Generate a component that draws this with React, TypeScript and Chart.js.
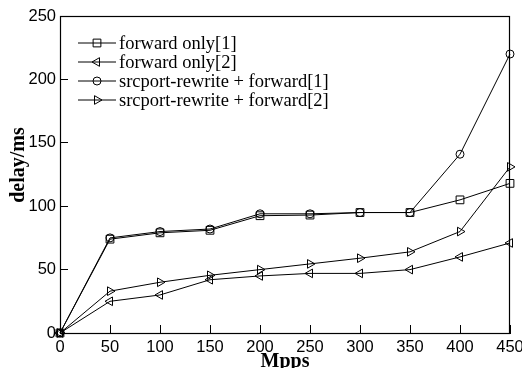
import React, { useEffect, useRef } from "react";
import { Chart, registerables } from "chart.js";

Chart.register(...registerables);

const xValues = [0, 50, 100, 150, 200, 250, 300, 350, 400, 450];
const forwardOnly1 = [0, 74, 79, 81, 92.5, 93, 95, 95, 105, 118];
const forwardOnly2 = [0, 25, 30, 42, 45, 47, 47, 50, 60, 71];
const srcport1 = [0, 75, 80, 82, 94, 94, 95, 95, 141, 220];
const srcport2 = [0, 33, 40, 45.5, 50, 54.5, 59, 64, 80, 131];

const seriesNames = [
  "forward only[1]",
  "forward only[2]",
  "srcport-rewrite + forward[1]",
  "srcport-rewrite + forward[2]",
];
const xTitle = "Mpps";
const yTitle = "delay/ms";

type Marker = { style: string; rotation: number; radius: number };
const markers: Marker[] = [
  { style: "rect", rotation: 0, radius: 5.5 },
  { style: "triangle", rotation: -90, radius: 5 },
  { style: "circle", rotation: 0, radius: 4 },
  { style: "triangle", rotation: 90, radius: 5 },
];

function drawMarker(ctx: CanvasRenderingContext2D, m: Marker, x: number, y: number) {
  ctx.beginPath();
  if (m.style === "rect") {
    const s = m.radius * Math.SQRT1_2;
    ctx.rect(x - s, y - s, 2 * s, 2 * s);
  } else if (m.style === "circle") {
    ctx.arc(x, y, m.radius, 0, Math.PI * 2);
  } else {
    const rad = (m.rotation * Math.PI) / 180;
    const r = m.radius;
    ctx.moveTo(x + Math.sin(rad) * r, y - Math.cos(rad) * r);
    ctx.lineTo(x + Math.sin(rad + (2 * Math.PI) / 3) * r, y - Math.cos(rad + (2 * Math.PI) / 3) * r);
    ctx.lineTo(x + Math.sin(rad + (4 * Math.PI) / 3) * r, y - Math.cos(rad + (4 * Math.PI) / 3) * r);
    ctx.closePath();
  }
  ctx.stroke();
}

const decorPlugin = {
  id: "decor",
  afterDraw(chart: any) {
    const ctx: CanvasRenderingContext2D = chart.ctx;
    const a = chart.chartArea;
    ctx.save();
    ctx.strokeStyle = "#000";
    ctx.lineWidth = 1.2;
    ctx.strokeRect(Math.round(a.left) + 0.5, Math.round(a.top) + 0.5, Math.round(a.right - a.left) - 1, Math.round(a.bottom - a.top));

    // legend
    ctx.lineWidth = 1;
    const rowY = [43, 62, 81, 100];
    ctx.font = '18.5px "Liberation Serif"';
    ctx.fillStyle = "#000";
    ctx.textBaseline = "middle";
    ctx.textAlign = "left";
    seriesNames.forEach((name, i) => {
      const y = rowY[i];
      ctx.beginPath();
      ctx.moveTo(78, y);
      ctx.lineTo(116, y);
      ctx.stroke();
      drawMarker(ctx, markers[i], 97, y);
      ctx.fillText(name, 119, y + 1);
    });

    // axis titles
    ctx.font = 'bold 20px "Liberation Serif"';
    ctx.textAlign = "center";
    ctx.textBaseline = "alphabetic";
    ctx.fillText(xTitle, (a.left + a.right) / 2, 367);
    ctx.save();
    ctx.translate(24, 165);
    ctx.rotate(-Math.PI / 2);
    ctx.fillText(yTitle, 0, 0);
    ctx.restore();
    ctx.restore();
  },
};

export default function App() {
  const canvasRef = useRef<HTMLCanvasElement | null>(null);

  useEffect(() => {
    const canvas = canvasRef.current;
    if (!canvas) return;
    const mk = (label: string, data: number[], i: number) => ({
      label,
      data: xValues.map((x, k) => ({ x, y: data[k] })),
      borderColor: "#000",
      borderWidth: 1,
      backgroundColor: "rgba(0,0,0,0)",
      pointStyle: markers[i].style,
      rotation: markers[i].rotation,
      pointRadius: markers[i].radius,
      pointBorderWidth: 1,
      pointBorderColor: "#000",
      pointBackgroundColor: "rgba(0,0,0,0)",
      tension: 0,
      fill: false,
      clip: false,
    });
    const tickFont = { family: '"Liberation Sans"', size: 16.5 };
    const chart = new Chart(canvas, {
      type: "line",
      data: {
        datasets: [
          mk(seriesNames[0], forwardOnly1, 0),
          mk(seriesNames[1], forwardOnly2, 1),
          mk(seriesNames[2], srcport1, 2),
          mk(seriesNames[3], srcport2, 3),
        ],
      },
      options: {
        responsive: false,
        animation: false,
        events: [],
        layout: { autoPadding: false, padding: { top: 16, right: 12, left: 0, bottom: 0 } },
        plugins: { legend: { display: false }, tooltip: { enabled: false } },
        scales: {
          x: {
            type: "linear",
            min: 0,
            max: 450,
            ticks: { stepSize: 50, font: tickFont, color: "#000", padding: 12.5, maxRotation: 0 },
            grid: { drawOnChartArea: false, tickLength: -8, color: "#000" },
            border: { color: "#000" },
            afterFit: (s: any) => {
              s.height = 35;
              s.paddingLeft = 0;
              s.paddingRight = 0;
              s.paddingTop = 0;
              s.paddingBottom = 0;
            },
          },
          y: {
            min: 0,
            max: 250,
            ticks: { stepSize: 50, font: tickFont, color: "#000", padding: 12 },
            grid: { drawOnChartArea: false, tickLength: -8, color: "#000" },
            border: { color: "#000" },
            afterFit: (s: any) => {
              s.width = 60;
              s.paddingLeft = 0;
              s.paddingRight = 0;
              s.paddingTop = 0;
              s.paddingBottom = 0;
            },
          },
        },
      },
      plugins: [decorPlugin],
    } as any);
    return () => chart.destroy();
  }, []);

  return (
    <div style={{ position: "fixed", left: 0, top: 0, width: 522, height: 368, background: "#fff" }}>
      <canvas ref={canvasRef} width={522} height={368} style={{ display: "block" }} />
    </div>
  );
}
